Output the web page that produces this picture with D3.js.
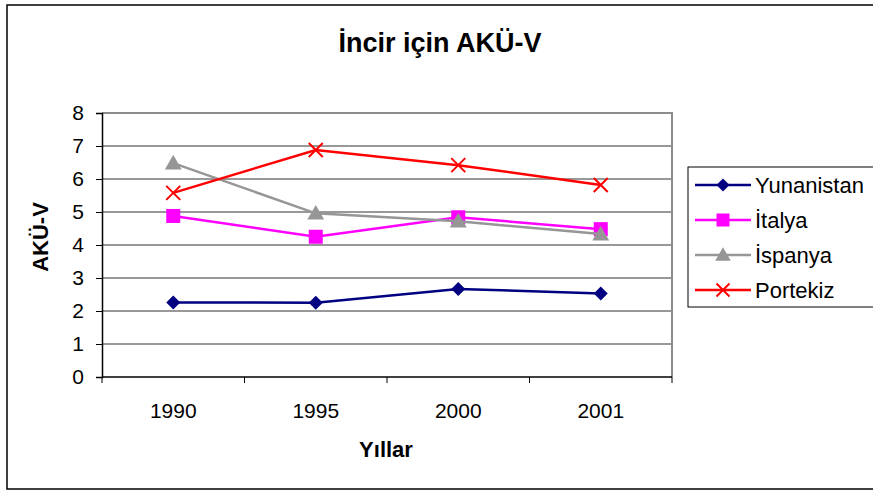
<!DOCTYPE html>
<html>
<head>
<meta charset="utf-8">
<script src="https://cdn.jsdelivr.net/npm/d3@7"></script>
<style>
  body { margin: 0; background: #fff; }
  svg { display: block; font-family: "Liberation Sans", Arial, sans-serif; }
</style>
</head>
<body>
<div class="container"></div>
<script>
const years = ["1990", "1995", "2000", "2001"];
const yTicks = [0, 1, 2, 3, 4, 5, 6, 7, 8];

const yunanistan = [2.26, 2.25, 2.67, 2.53];
const italya     = [4.88, 4.25, 4.84, 4.48];
const ispanya    = [6.48, 4.96, 4.72, 4.33];
const portekiz   = [5.58, 6.88, 6.42, 5.82];

const seriesNames = ["Yunanistan", "İtalya", "İspanya", "Portekiz"];
const seriesColors = ["#000080", "#ff00ff", "#969696", "#ff0000"];
const seriesShapes = ["diamond", "square", "triangle", "cross"];
const seriesValues = [yunanistan, italya, ispanya, portekiz];

const W = 873, H = 492;
const plot = {left: 102, top: 113, right: 672, bottom: 377};

const svg = d3.select(".container")
  .append("svg")
    .attr("width", W)
    .attr("height", H);

// outer chart frame
svg.append("rect")
  .attr("x", 7).attr("y", 5)
  .attr("width", 880).attr("height", 484)
  .attr("fill", "#fff")
  .attr("stroke", "#000")
  .attr("stroke-width", 1.5);

const x = d3.scaleBand()
  .domain(years)
  .range([plot.left, plot.right]);

const y = d3.scaleLinear()
  .domain([0, 8])
  .range([plot.bottom, plot.top]);

// gridlines
svg.append("g")
  .selectAll("line")
  .data(yTicks.filter(d => d > 0 && d < 8))
  .join("line")
    .attr("x1", plot.left).attr("x2", plot.right)
    .attr("y1", d => y(d)).attr("y2", d => y(d))
    .attr("stroke", "#333")
    .attr("stroke-width", 1);

// plot frame, gray top/right
svg.append("path")
  .attr("d", `M${plot.left},${plot.top}H${plot.right}V${plot.bottom}`)
  .attr("fill", "none")
  .attr("stroke", "#8c8c8c")
  .attr("stroke-width", 2);

// y axis
const yAxis = svg.append("g")
  .attr("transform", `translate(${plot.left},0)`)
  .call(d3.axisLeft(y).tickValues(yTicks).tickSize(6).tickPadding(12));
yAxis.select(".domain").attr("stroke", "#000").attr("stroke-width", 1.5);
yAxis.selectAll(".tick line").attr("stroke", "#000");
yAxis.selectAll("text")
  .attr("font-size", 21)
  .attr("fill", "#000")
  .attr("font-family", "Liberation Sans, Arial, sans-serif");

// x axis (ticks at category boundaries)
const xg = svg.append("g")
  .attr("transform", `translate(0,${plot.bottom})`);
xg.append("line")
  .attr("x1", plot.left).attr("x2", plot.right)
  .attr("stroke", "#000").attr("stroke-width", 1.5);
xg.selectAll(".bnd")
  .data(years.concat(["end"]))
  .join("line")
    .attr("class", "bnd")
    .attr("x1", d => d === "end" ? plot.right : x(d))
    .attr("x2", d => d === "end" ? plot.right : x(d))
    .attr("y1", 0).attr("y2", 6)
    .attr("stroke", "#000");
xg.selectAll("text")
  .data(years)
  .join("text")
    .attr("x", d => x(d) + x.bandwidth() / 2)
    .attr("y", 41)
    .attr("text-anchor", "middle")
    .attr("font-size", 21)
    .text(d => d);

// series
const line = d3.line()
  .x((d, i) => x(years[i]) + x.bandwidth() / 2)
  .y(d => y(d));

function drawMarker(g, shape, color, size) {
  const s = size / 2;
  if (shape === "diamond") {
    g.append("path")
      .attr("d", `M0,${-s}L${s},0L0,${s}L${-s},0Z`)
      .attr("fill", color);
  } else if (shape === "square") {
    g.append("rect")
      .attr("x", -s).attr("y", -s)
      .attr("width", size).attr("height", size)
      .attr("fill", color);
  } else if (shape === "triangle") {
    g.append("path")
      .attr("d", `M0,${-size * 0.6}L${size * 0.6},${size * 0.45}L${-size * 0.6},${size * 0.45}Z`)
      .attr("fill", color);
  } else {
    g.append("path")
      .attr("d", `M${-s},${-s}L${s},${s}M${-s},${s}L${s},${-s}`)
      .attr("stroke", color)
      .attr("stroke-width", 2);
  }
}

seriesValues.forEach((vals, si) => {
  svg.append("path")
    .datum(vals)
    .attr("d", line)
    .attr("fill", "none")
    .attr("stroke", seriesColors[si])
    .attr("stroke-width", 2.5);

  vals.forEach((v, i) => {
    const g = svg.append("g")
      .attr("transform", `translate(${x(years[i]) + x.bandwidth() / 2},${y(v)})`);
    drawMarker(g, seriesShapes[si], seriesColors[si], 14);
  });
});

// title
svg.append("text")
  .attr("x", 440).attr("y", 52)
  .attr("text-anchor", "middle")
  .attr("font-size", 27)
  .attr("font-weight", "bold")
  .text("İncir için AKÜ-V");

// axis titles
svg.append("text")
  .attr("x", 386).attr("y", 457)
  .attr("text-anchor", "middle")
  .attr("font-size", 22)
  .attr("font-weight", "bold")
  .text("Yıllar");

svg.append("text")
  .attr("transform", "translate(48,237) rotate(-90)")
  .attr("text-anchor", "middle")
  .attr("font-size", 22)
  .attr("font-weight", "bold")
  .text("AKÜ-V");

// legend
const legend = svg.append("g")
  .attr("transform", "translate(688,167)");
legend.append("rect")
  .attr("width", 190).attr("height", 140)
  .attr("fill", "#fff")
  .attr("stroke", "#000")
  .attr("stroke-width", 1);

seriesNames.forEach((name, si) => {
  const row = legend.append("g")
    .attr("transform", `translate(0,${18 + si * 35})`);
  row.append("line")
    .attr("x1", 7).attr("x2", 63)
    .attr("stroke", seriesColors[si])
    .attr("stroke-width", 2.5);
  drawMarker(row.append("g").attr("transform", "translate(35,0)"), seriesShapes[si], seriesColors[si], 13);
  row.append("text")
    .attr("x", 67).attr("y", 8)
    .attr("font-size", 22)
    .text(name);
});
</script>
</body>
</html>
